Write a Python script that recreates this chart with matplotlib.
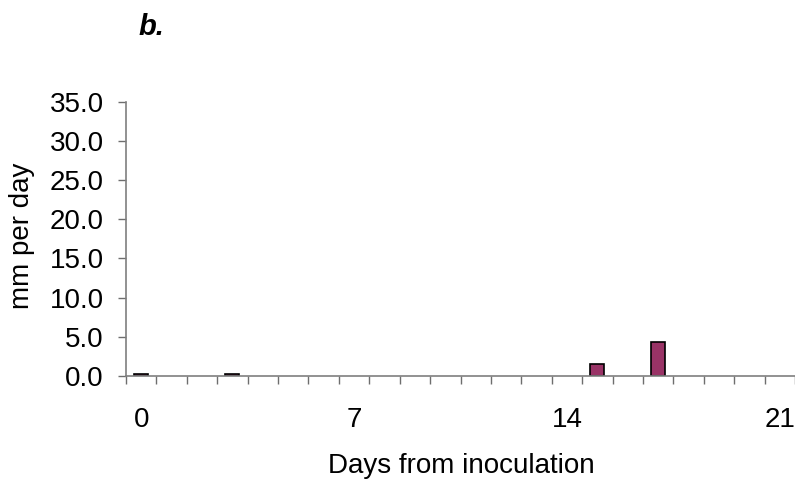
import numpy as np
import matplotlib.pyplot as plt

days = list(range(22))
mm_per_day = [0.2, 0, 0, 0.2, 0, 0, 0, 0, 0, 0, 0, 0, 0, 0, 0, 1.5, 0, 4.3, 0, 0, 0, 0]
x_labels = [0, 7, 14, 21]
y_ticks = [0, 5, 10, 15, 20, 25, 30, 35]

plt.rcParams['font.family'] = 'Liberation Sans'
fig = plt.figure(figsize=(7.95, 4.83), dpi=100)
ax = fig.add_axes([0.1585, 0.2215, 0.8415, 0.568])

# only days with rain get a bar (no outline on zero days)
vals = np.array(mm_per_day, dtype=float)
has = vals > 0
ax.bar(np.array(days)[has], vals[has], width=0.46, color='#993366',
       edgecolor='black', linewidth=1.2)

ax.set_xlim(-0.5, 21.5)
ax.set_ylim(0, 35)
ax.set_yticks(y_ticks)
ax.set_yticklabels([f'{v:.1f}' for v in y_ticks], fontsize=20)
ax.set_xticks(x_labels)
ax.set_xticklabels([str(v) for v in x_labels], fontsize=20)
ax.set_xticks(np.arange(-0.5, 22, 1), minor=True)
ax.tick_params(axis='x', which='major', length=0, pad=22)
ax.tick_params(axis='x', which='minor', length=6, width=1, color='#6e6e6e', direction='out')
ax.tick_params(axis='y', length=6, width=1, color='#6e6e6e', pad=10)

for s in ['top', 'right']:
    ax.spines[s].set_visible(False)
for s in ['left', 'bottom']:
    ax.spines[s].set_color('#7f7f7f')
    ax.spines[s].set_linewidth(1.2)

fig.text(0.0277, 0.511, 'mm per day', fontsize=20, rotation=90, ha='center', va='center')
fig.text(0.58, 0.0207, 'Days from inoculation', fontsize=20, ha='center', va='baseline')
fig.text(0.174, 1 - 35 / 483, 'b.', fontsize=21, fontweight='bold', fontstyle='italic', va='baseline')

fig.savefig('out.png', dpi=100)
